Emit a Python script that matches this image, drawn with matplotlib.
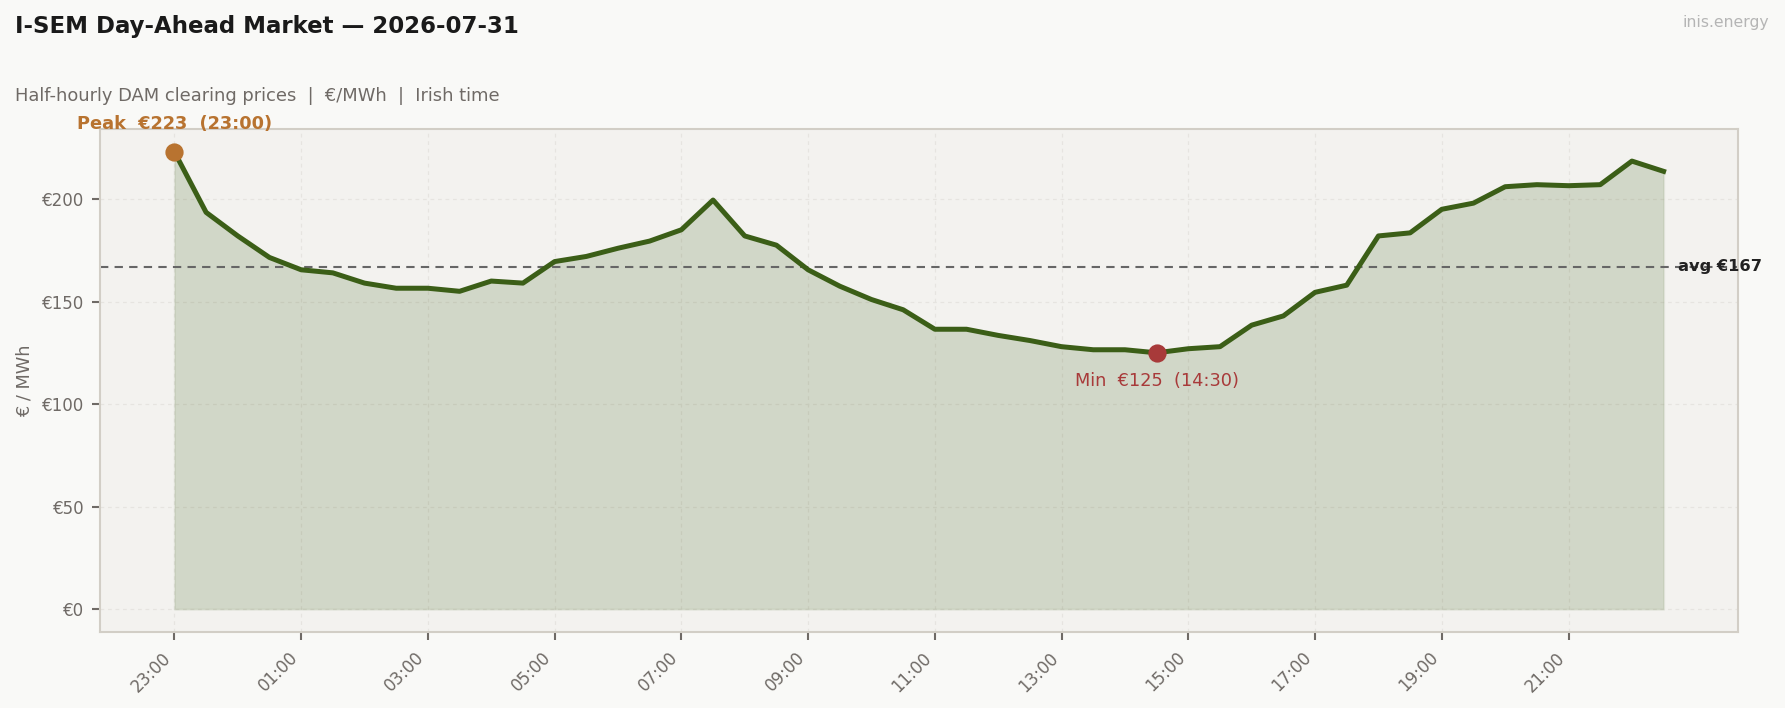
import matplotlib
matplotlib.use("Agg")
import matplotlib.pyplot as plt
import matplotlib.dates as mdates
import pandas as pd
import numpy as np

# half-hourly DAM prices, €/MWh, starting 23:00 the evening before
start = "2026-07-30 23:00"
prices = [223, 193.5, 182, 171.5, 165.5, 164, 159, 156.5, 156.5, 155,
          160, 159, 169.5, 172, 176, 179.5, 185, 199.5, 182, 177.5,
          165.5, 157.5, 151, 146, 136.5, 136.5, 133.5, 131, 128, 126.5,
          126.5, 125, 127, 128, 138.5, 143, 154.5, 158, 182, 183.5,
          195, 198, 206, 207, 206.5, 207, 218.5, 213.5]
yticks = [0, 50, 100, 150, 200]

times = pd.date_range(start, periods=len(prices), freq="30min")
prices = np.array(prices)
avg = prices.mean()
i_max = int(prices.argmax())
i_min = int(prices.argmin())

GREEN = "#3b5e17"
PEAK = "#b87330"
LOW = "#a83a3a"
GREY = "#6f6a66"

fig = plt.figure(figsize=(11.9, 4.72), dpi=150, facecolor="#f9f9f7")
ax = fig.add_axes([0.056, 0.1073, 0.9177, 0.7105])
ax.set_facecolor("#f3f2ef")

ax.fill_between(times, prices, 0, color=GREEN, alpha=0.18, lw=1, edgecolor="#9aab88")
ax.plot(times, prices, color=GREEN, lw=2.4, zorder=3)

ax.axhline(avg, color="#666666", lw=1.0, ls=(0, (4, 3)), zorder=2)
ax.annotate(f"avg €{avg:.0f}", (times[-1], avg), xytext=(7, 0), textcoords="offset points",
            va="center", ha="left", fontsize=7.8, fontweight="bold", color="#222222",
            annotation_clip=False)

ax.scatter([times[i_max]], [prices[i_max]], s=60, color=PEAK, zorder=4)
ax.annotate(f"Peak  €{prices[i_max]:.0f}  ({times[i_max]:%H:%M})",
            (times[i_max], prices[i_max]), xytext=(0, 9), textcoords="offset points",
            ha="center", va="bottom", fontsize=8.5, fontweight="bold", color=PEAK,
            annotation_clip=False)

ax.scatter([times[i_min]], [prices[i_min]], s=60, color=LOW, zorder=4)
ax.annotate(f"Min  €{prices[i_min]:.0f}  ({times[i_min]:%H:%M})",
            (times[i_min], prices[i_min]), xytext=(0, -9), textcoords="offset points",
            ha="center", va="top", fontsize=8.5, color=LOW)

ax.set_xticks(times[::4])
ax.xaxis.set_major_formatter(mdates.DateFormatter("%H:%M"))
plt.setp(ax.get_xticklabels(), rotation=45, ha="right")
ax.set_yticks(yticks)
ax.set_yticklabels([f"€{v}" for v in yticks])
ax.tick_params(colors=GREY, labelsize=8, length=4, width=1)
ax.tick_params(axis="x", pad=4)

ax.grid(True, color="#e6e4e0", lw=0.6, ls=(0, (3, 3)))
ax.set_axisbelow(True)
for s in ax.spines.values():
    s.set_color("#d2cec6")
    s.set_linewidth(1.0)

ax.set_ylabel("€ / MWh", color=GREY, fontsize=8.5)

fig.text(0.0086, 1 - 33 / 708, "I-SEM Day-Ahead Market — 2026-07-31", fontsize=11,
         fontweight="bold", color="#1a1a1a", va="baseline")
fig.text(0.0086, 1 - 101 / 708, "Half-hourly DAM clearing prices  |  €/MWh  |  Irish time",
         fontsize=8.6, color=GREY, va="baseline")
fig.text(0.991, 1 - 27 / 708, "inis.energy", fontsize=7.5, color="#b5b5b5",
         ha="right", va="baseline")

fig.savefig("out.png", dpi=150, facecolor=fig.get_facecolor())
